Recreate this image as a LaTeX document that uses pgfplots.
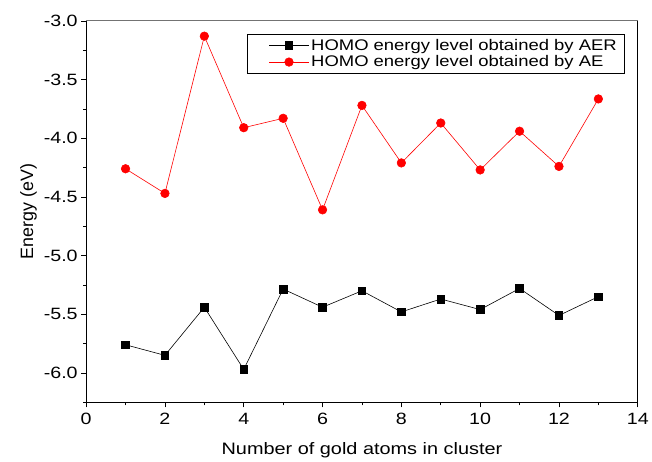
\documentclass[border=0pt]{standalone}
\usepackage{fontspec}
\setmainfont{Liberation Sans}[FakeStretch=1.2]
\newfontfamily\plainfont{Liberation Sans}
\usepackage{pgfplots}
\pgfplotsset{compat=1.18}
\newcommand\tfont{\fontsize{16.5}{18}\selectfont}
\begin{document}
\begin{tikzpicture}
\begin{axis}[
  scale only axis,
  width=554bp, height=383bp,
  xmin=0, xmax=14, ymin=-6.25, ymax=-3.0,
  xtick={0,2,...,14},
  minor xtick={1,3,...,13},
  ytick={-6.0,-5.5,...,-3.0},
  minor ytick={-6.25,-5.75,...,-3.25},
  xtick pos=left, ytick pos=left,
  tick align=outside,
  major tick length=5bp, minor tick length=3bp,
  every tick/.style={black, line width=0.8pt},
  axis line style={black, line width=0.9pt},
  xticklabels={\tfont 0,\tfont 2,\tfont 4,\tfont 6,\tfont 8,\tfont 10,\tfont 12,\tfont 14},
  yticklabels={\tfont -6.0,\tfont -5.5,\tfont -5.0,\tfont -4.5,\tfont -4.0,\tfont -3.5,\tfont -3.0},
  xticklabel style={yshift=-2bp},
  xlabel={\fontsize{16.7}{19}\selectfont Number of gold atoms in cluster},
  ylabel={\plainfont\fontsize{18}{20}\selectfont Energy (eV)},
  xlabel style={at={(axis description cs:0.5,-0.138)}, anchor=base},
  ylabel style={at={(axis description cs:-0.096,0.5)}, anchor=base},
  legend style={at={(0.977,0.966)}, anchor=north east, draw=black, line width=0.6pt,
    font=\fontsize{15.5}{18}\selectfont, inner xsep=6bp, inner ysep=3bp,
    row sep=0bp, cells={anchor=west}},
  legend cell align=left,
  legend image code/.code={\path (0bp,0bp); \draw[#1] (16bp,0bp) -- (56bp,0bp) plot coordinates {(36bp,0bp)};},
]
\addplot[black, line width=0.6pt, mark=square*, mark size=3.8bp, mark options={solid, fill=black}]
  coordinates {(1,-5.76) (2,-5.85) (3,-5.44) (4,-5.97) (5,-5.285) (6,-5.44) (7,-5.30)
               (8,-5.48) (9,-5.37) (10,-5.46) (11,-5.28) (12,-5.51) (13,-5.35)};
\addlegendentry{HOMO energy level obtained by AER}
\addplot[red, line width=0.6pt, mark=*, mark size=4.3bp, mark options={solid, fill=red, draw=red}]
  coordinates {(1,-4.26) (2,-4.47) (3,-3.13) (4,-3.91) (5,-3.83) (6,-4.61) (7,-3.72)
               (8,-4.21) (9,-3.87) (10,-4.27) (11,-3.94) (12,-4.24) (13,-3.665)};
\addlegendentry{HOMO energy level obtained by AE}
\draw[gray!90!black, line width=0.9pt] (rel axis cs:0,1) -- (rel axis cs:1,1);
\end{axis}
\useasboundingbox (current axis.south west)++(-86.5bp,-56bp) rectangle ([xshift=11.3bp,yshift=21bp]current axis.north east);
\end{tikzpicture}
\end{document}
